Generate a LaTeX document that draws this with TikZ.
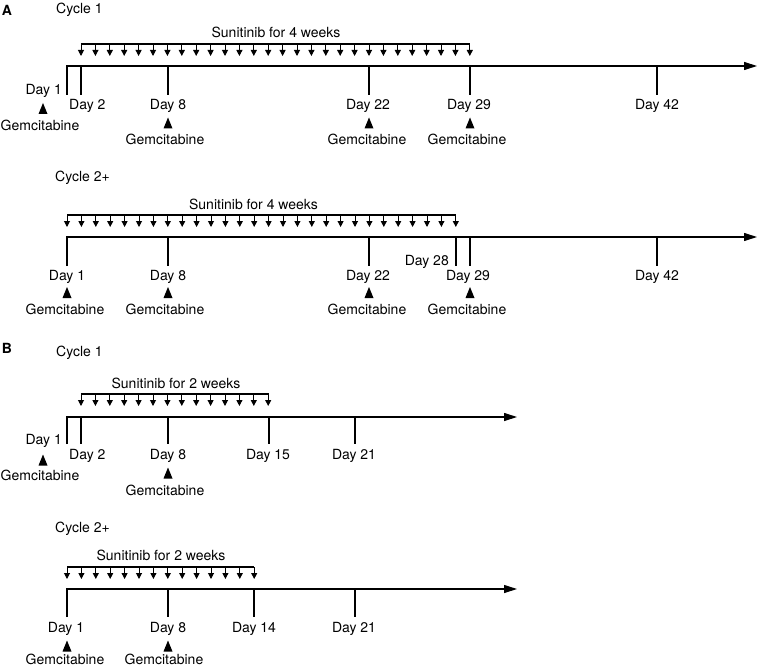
\documentclass[tikz,border=0pt]{standalone}
\usepackage{fontspec}
\setmainfont{TeX Gyre Heros}
\usetikzlibrary{arrows.meta}
\begin{document}
\begin{tikzpicture}[x=1pt,y=-1pt,
  lbl/.style={font=\fontsize{14}{16}\selectfont, inner sep=0pt},
  panel/.style={font=\fontsize{14}{16}\selectfont\bfseries, inner sep=0pt},
  axis/.style={line width=1.1pt,-{Triangle[length=13pt,width=8pt]}},
  tickline/.style={line width=1.1pt},
  dose/.style={line width=1pt,-{Triangle[length=6pt,width=6pt]}},
  gemtri/.style={fill=black}]
\useasboundingbox (0,0) rectangle (759,668);
\def\gtri(#1,#2){\fill[gemtri] (#1-4.5,#2+5.5) -- (#1+4.5,#2+5.5) -- (#1,#2-5.5) -- cycle;}

% ================= Panel A, cycle 1 =================
\node[panel] (pA) at (7,10) {A};
\node[lbl,anchor=west] (a1cyc) at (56,10) {Cycle 1};
\node[lbl] (a1sun) at (276,32) {Sunitinib for 4 weeks};
\coordinate (a1bs) at (81,44); \coordinate (a1be) at (470.2,44);
\draw[tickline] (a1bs) -- (a1be);
\foreach \i in {0,...,27}{\draw[dose] (81+\i*14.4,44) -- (81+\i*14.4,56);}
\coordinate (a1d1b) at (67,95); \coordinate (a1o) at (67,66); \coordinate (a1end) at (757,66);
\draw[axis] (a1d1b) -- (a1o) -- (a1end);
\foreach \x in {81,168,369,470,657}{\draw[tickline] (\x,66) -- (\x,95);}
\node[lbl,anchor=east] (a1l1) at (62,91) {Day 1};
\node[lbl,anchor=west] (a1l2) at (69,106) {Day 2};
\node[lbl] (a1l8) at (168,106) {Day 8};
\node[lbl] (a1l22) at (368,106) {Day 22};
\node[lbl] (a1l29) at (469,106) {Day 29};
\node[lbl] (a1l42) at (657,106) {Day 42};
\gtri(43,108.5) \gtri(168,123) \gtri(369,123) \gtri(470,123)
\node[lbl] (a1g1) at (40,125.5) {Gemcitabine};
\node[lbl] (a1g8) at (165,139) {Gemcitabine};
\node[lbl] (a1g22) at (367,139) {Gemcitabine};
\node[lbl] (a1g29) at (467,139) {Gemcitabine};

% ================= Panel A, cycle 2+ =================
\node[lbl,anchor=west] (a2cyc) at (55,178) {Cycle 2+};
\node[lbl] (a2sun) at (253.5,204) {Sunitinib for 4 weeks};
\coordinate (a2bs) at (67,215); \coordinate (a2be) at (455.8,215);
\draw[tickline] (a2bs) -- (a2be);
\foreach \i in {0,...,27}{\draw[dose] (67+\i*14.4,215) -- (67+\i*14.4,227);}
\coordinate (a2d1b) at (67,266); \coordinate (a2o) at (67,237); \coordinate (a2end) at (757,237);
\draw[axis] (a2d1b) -- (a2o) -- (a2end);
\foreach \x in {168,369,456,470,657}{\draw[tickline] (\x,237) -- (\x,266);}
\node[lbl] (a2l1) at (67,277) {Day 1};
\node[lbl] (a2l8) at (168,277) {Day 8};
\node[lbl] (a2l22) at (368,277) {Day 22};
\node[lbl,anchor=east] (a2l28) at (449,261.5) {Day 28};
\node[lbl] (a2l29) at (468,277) {Day 29};
\node[lbl] (a2l42) at (657,277) {Day 42};
\gtri(67,292.5) \gtri(168,292.5) \gtri(369,292.5) \gtri(470,292.5)
\node[lbl] (a2g1) at (65,309) {Gemcitabine};
\node[lbl] (a2g8) at (165,309) {Gemcitabine};
\node[lbl] (a2g22) at (367,309) {Gemcitabine};
\node[lbl] (a2g29) at (467,309) {Gemcitabine};

% ================= Panel B, cycle 1 =================
\node[panel] (pB) at (7,348) {B};
\node[lbl,anchor=west] (b1cyc) at (56,353) {Cycle 1};
\node[lbl] (b1sun) at (176,383) {Sunitinib for 2 weeks};
\coordinate (b1bs) at (81,394); \coordinate (b1be) at (268.6,394);
\draw[tickline] (b1bs) -- (b1be);
\foreach \i in {0,...,13}{\draw[dose] (81+\i*14.4,394) -- (81+\i*14.4,406);}
\coordinate (b1d1b) at (67,444); \coordinate (b1o) at (67,417); \coordinate (b1end) at (517,417);
\draw[axis] (b1d1b) -- (b1o) -- (b1end);
\foreach \x in {81,168,269,355}{\draw[tickline] (\x,417) -- (\x,444);}
\node[lbl,anchor=east] (b1l1) at (62,441) {Day 1};
\node[lbl,anchor=west] (b1l2) at (69,455.5) {Day 2};
\node[lbl] (b1l8) at (168,455.5) {Day 8};
\node[lbl] (b1l15) at (268,455.5) {Day 15};
\node[lbl] (b1l21) at (354,455.5) {Day 21};
\gtri(43,460) \gtri(168,473)
\node[lbl] (b1g1) at (40,475) {Gemcitabine};
\node[lbl] (b1g8) at (165,490) {Gemcitabine};

% ================= Panel B, cycle 2+ =================
\node[lbl,anchor=west] (b2cyc) at (55,529) {Cycle 2+};
\node[lbl] (b2sun) at (161,555) {Sunitinib for 2 weeks};
\coordinate (b2bs) at (67,567); \coordinate (b2be) at (254.2,567);
\draw[tickline] (b2bs) -- (b2be);
\foreach \i in {0,...,13}{\draw[dose] (67+\i*14.4,567) -- (67+\i*14.4,579);}
\coordinate (b2d1b) at (67,617); \coordinate (b2o) at (67,589); \coordinate (b2end) at (517,589);
\draw[axis] (b2d1b) -- (b2o) -- (b2end);
\foreach \x in {168,254,355}{\draw[tickline] (\x,589) -- (\x,617);}
\node[lbl] (b2l1) at (66,628.5) {Day 1};
\node[lbl] (b2l8) at (168,628.5) {Day 8};
\node[lbl] (b2l14) at (254,628.5) {Day 14};
\node[lbl] (b2l21) at (354,628.5) {Day 21};
\gtri(67,646) \gtri(168,646)
\node[lbl] (b2g1) at (65,659) {Gemcitabine};
\node[lbl] (b2g8) at (164,659) {Gemcitabine};
\end{tikzpicture}
\end{document}
